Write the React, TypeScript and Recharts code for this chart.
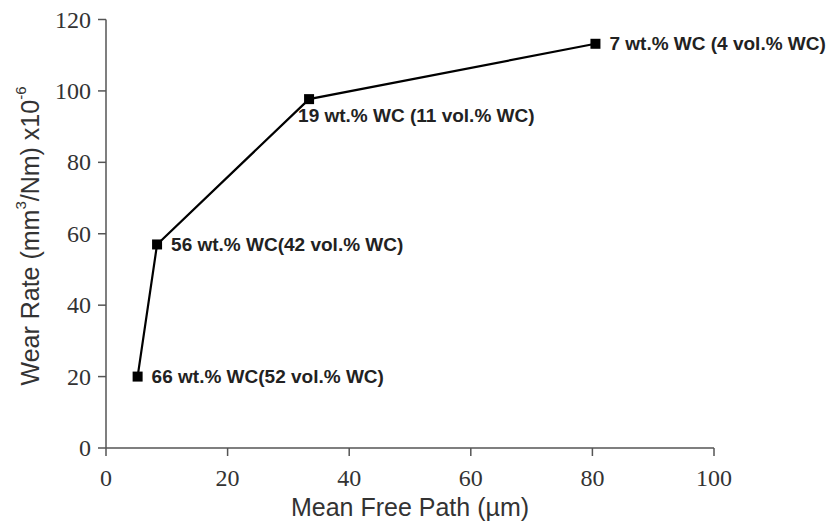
import { LineChart, Line, XAxis, YAxis, LabelList } from "recharts";

const meanFreePath = [5.2, 8.4, 33.4, 80.5];
const wearRate = [20, 57, 97.7, 113.2];
const compositionLabels = [
  "66 wt.% WC(52 vol.% WC)",
  "56 wt.% WC(42 vol.% WC)",
  "19 wt.% WC (11 vol.% WC)",
  "7 wt.% WC (4 vol.% WC)",
];
const labelBelow = [false, false, true, false];
const xTicks = [0, 20, 40, 60, 80, 100];
const yTicks = [0, 20, 40, 60, 80, 100, 120];

const data = meanFreePath.map((x, i) => ({
  x,
  y: wearRate[i],
  label: compositionLabels[i],
  below: labelBelow[i],
}));

const axisColor = "#555";
const serif = "'Liberation Serif', 'Times New Roman', serif";
const sans = "'Liberation Sans', Arial, sans-serif";

const XTick = (props: any) => {
  const { x, y, payload } = props;
  return (
    <text x={x} y={y + 28} textAnchor="middle" fontFamily={serif} fontSize={24} fill="#333">
      {payload.value}
    </text>
  );
};

const YTick = (props: any) => {
  const { x, y, payload } = props;
  return (
    <text x={x - 5} y={y} textAnchor="end" dominantBaseline="central" fontFamily={serif} fontSize={24} fill="#333">
      {payload.value}
    </text>
  );
};

const SquareDot = (props: any) => {
  const { cx, cy } = props;
  return <rect x={cx - 5} y={cy - 5} width={10} height={10} fill="#000" />;
};

const PointLabel = (props: any) => {
  const { x, y, value, index } = props;
  const below = data[index]?.below;
  return (
    <text
      x={below ? x - 11 : x + 14}
      y={below ? y + 16 : y}
      dominantBaseline="central"
      fontFamily={sans}
      fontWeight="bold"
      fontSize={19}
      fill="#222"
    >
      {value}
    </text>
  );
};

const YTitle = () => (
  <text
    transform="translate(30, 236) rotate(-90)"
    textAnchor="middle"
    dominantBaseline="central"
    fontFamily={sans}
    fontSize={25}
    fill="#333"
  >
    Wear Rate (mm<tspan dy={-10} fontSize={15}>3</tspan>
    <tspan dy={10}>/Nm) x10</tspan>
    <tspan dy={-10} fontSize={15}>-6</tspan>
  </text>
);

export default function App() {
  return (
    <div style={{ position: "absolute", left: 0, top: 0, background: "#fff" }}>
      <LineChart
        width={835}
        height={523}
        data={data}
        margin={{ top: 19.5, right: 121, bottom: 15, left: 0 }}
      >
        <XAxis
          dataKey="x"
          type="number"
          domain={[0, 100]}
          ticks={xTicks}
          height={60}
          stroke={axisColor}
          strokeWidth={1.5}
          tickSize={8}
          tick={<XTick />}
          label={{
            value: "Mean Free Path (µm)",
            position: "insideBottom",
            offset: -8,
            style: { fontFamily: sans, fontSize: 25, fill: "#333" },
          }}
        />
        <YAxis
          dataKey="y"
          type="number"
          domain={[0, 120]}
          ticks={yTicks}
          width={106}
          stroke={axisColor}
          strokeWidth={1.5}
          tickSize={8}
          tick={<YTick />}
          label={<YTitle />}
        />
        <Line
          dataKey="y"
          stroke="#000"
          strokeWidth={2.2}
          dot={<SquareDot />}
          activeDot={false}
          isAnimationActive={false}
        >
          <LabelList dataKey="label" content={<PointLabel />} />
        </Line>
      </LineChart>
    </div>
  );
}
